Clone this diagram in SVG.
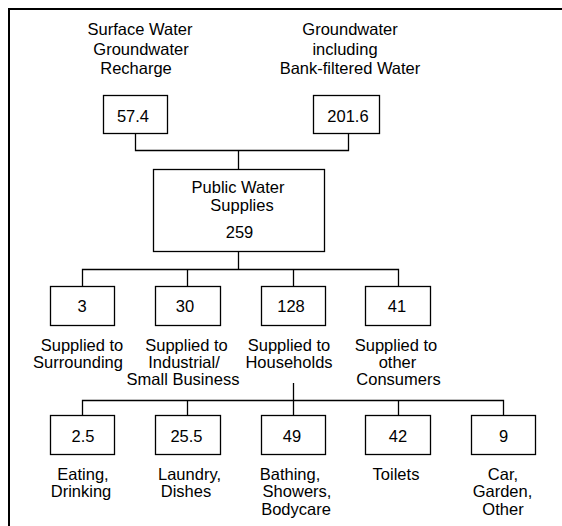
<svg xmlns="http://www.w3.org/2000/svg" width="562" height="526" viewBox="0 0 562 526">
<style>
.box{fill:#fff;stroke:#000;stroke-width:1.3}
.ln{fill:none;stroke:#000;stroke-width:1.3}
text{font-family:"Liberation Sans",Arial,sans-serif;font-size:16.5px;fill:#000;text-anchor:middle}
</style>
<rect width="562" height="526" fill="#fff"/>
<path d="M9 526 V9 H562" fill="none" stroke="#000" stroke-width="2"/>
<g id="connectors">
<path class="ln" d="M135.5 133 V150.5 H348.5 V133 M238.5 150.5 V169"/>
<path class="ln" d="M238.5 252 V269.5 M82.5 286 V269.5 H398.5 V286 M187.5 269.5 V286 M293.5 269.5 V286"/>
<path class="ln" d="M293.5 383 V415 M82.5 415 V400.5 H503.5 V415 M187.5 400.5 V415 M398.5 400.5 V415"/>
</g>
<g id="label-surface">
<text x="140" y="35">Surface Water</text>
<text x="141" y="55">Groundwater</text>
<text x="136" y="74">Recharge</text>
</g>
<g id="label-groundwater">
<text x="350" y="35">Groundwater</text>
<text x="345" y="55">including</text>
<text x="350" y="74">Bank-filtered Water</text>
</g>
<g id="n-57"><rect class="box" x="103.5" y="95.5" width="64" height="38"/><text x="133" y="122">57.4</text></g>
<g id="n-201"><rect class="box" x="313.5" y="95.5" width="66" height="38"/><text x="348" y="122">201.6</text></g>
<g id="n-public"><rect class="box" x="153.5" y="169.5" width="171" height="82"/>
<text x="238" y="193">Public Water</text><text x="242" y="211">Supplies</text><text x="239.5" y="238">259</text></g>
<g id="n-3"><rect class="box" x="50.5" y="286.5" width="64" height="39"/><text x="82" y="312">3</text>
<text x="82" y="351">Supplied to</text><text x="78" y="368">Surrounding</text></g>
<g id="n-30"><rect class="box" x="155.5" y="286.5" width="65" height="39"/><text x="185" y="312">30</text>
<text x="186.5" y="351">Supplied to</text><text x="184" y="368">Industrial/</text><text x="183" y="385">Small Business</text></g>
<g id="n-128"><rect class="box" x="261.5" y="286.5" width="64" height="39"/><text x="291" y="312">128</text>
<text x="289" y="351">Supplied to</text><text x="289" y="368">Households</text></g>
<g id="n-41"><rect class="box" x="365.5" y="286.5" width="65" height="39"/><text x="397" y="312">41</text>
<text x="396" y="351">Supplied to</text><text x="397.5" y="368">other</text><text x="398.5" y="385">Consumers</text></g>
<g id="n-2_5"><rect class="box" x="50.5" y="415.5" width="64" height="39"/><text x="83" y="442">2.5</text>
<text x="83" y="480">Eating,</text><text x="81" y="497">Drinking</text></g>
<g id="n-25_5"><rect class="box" x="155.5" y="415.5" width="65" height="39"/><text x="186.5" y="442">25.5</text>
<text x="189.5" y="480">Laundry,</text><text x="186" y="497">Dishes</text></g>
<g id="n-49"><rect class="box" x="261.5" y="415.5" width="64" height="39"/><text x="292" y="442">49</text>
<text x="290" y="480">Bathing,</text><text x="297" y="497">Showers,</text><text x="296" y="515">Bodycare</text></g>
<g id="n-42"><rect class="box" x="365.5" y="415.5" width="65" height="39"/><text x="398" y="442">42</text>
<text x="396" y="480">Toilets</text></g>
<g id="n-9"><rect class="box" x="471.5" y="415.5" width="64" height="39"/><text x="503.5" y="442">9</text>
<text x="503" y="480">Car,</text><text x="502.5" y="497">Garden,</text><text x="503" y="515">Other</text></g>
</svg>
